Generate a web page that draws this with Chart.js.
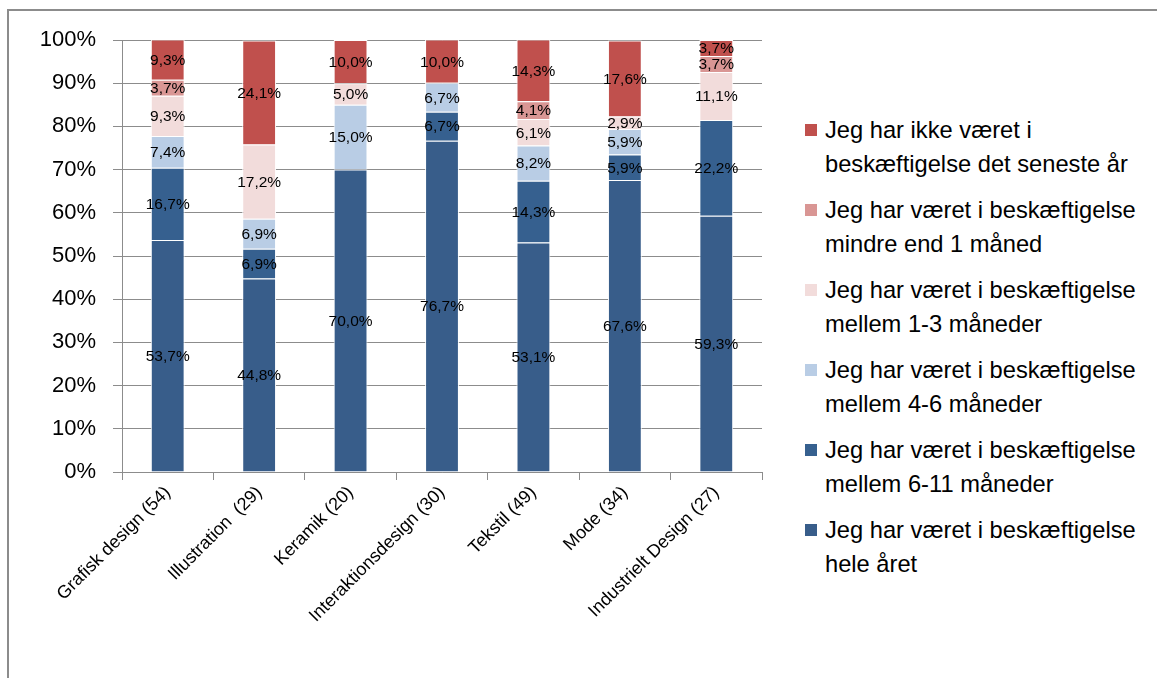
<!DOCTYPE html>
<html>
<head>
<meta charset="utf-8">
<script src="https://cdn.jsdelivr.net/npm/chart.js@4.4.0/dist/chart.umd.min.js"></script>
<style>
  body { margin: 0; background: #fff; overflow: hidden; font-family: "Liberation Sans", Arial, sans-serif; }
  #frame { position: absolute; left: 7px; top: 9px; width: 1300px; height: 800px; border: 2px solid #8c8c8c; }
  #wrap { position: absolute; left: 0; top: 0; width: 770px; height: 678px; }
  #legend { position: absolute; left: 805px; top: 113px; }
  .item { position: relative; padding-left: 20px; font-size: 23.7px; line-height: 34px; color: #000; margin-bottom: 12px; white-space: nowrap; }
  .item span.box { position: absolute; left: 0; top: 11px; width: 12px; height: 12px; }
</style>
</head>
<body>
<div id="frame"></div>
<div id="wrap"><canvas id="chart"></canvas></div>
<div id="legend"></div>
<script>
// categories (x axis)
const categories = ["Grafisk design (54)", "Illustration  (29)", "Keramik (20)", "Interaktionsdesign (30)", "Tekstil (49)", "Mode (34)", "Industrielt Design (27)"];

// series, bottom to top, in percent
const heleAaret   = [53.7, 44.8, 70.0, 76.7, 53.1, 67.6, 59.3];
const mdr6til11   = [16.7, 6.9, 0, 6.7, 14.3, 5.9, 22.2];
const mdr4til6    = [7.4, 6.9, 15.0, 6.7, 8.2, 5.9, 0];
const mdr1til3    = [9.3, 17.2, 5.0, 0, 6.1, 2.9, 11.1];
const underEnMdr  = [3.7, 0, 0, 0, 4.1, 0, 3.7];
const ikkeBeskaef = [9.3, 24.1, 10.0, 10.0, 14.3, 17.6, 3.7];

const yTicks = [0, 10, 20, 30, 40, 50, 60, 70, 80, 90, 100];

const seriesNames = [
  ["Jeg har været i beskæftigelse", "hele året"],
  ["Jeg har været i beskæftigelse", "mellem 6-11 måneder"],
  ["Jeg har været i beskæftigelse", "mellem 4-6 måneder"],
  ["Jeg har været i beskæftigelse", "mellem 1-3 måneder"],
  ["Jeg har været i beskæftigelse", "mindre end 1 måned"],
  ["Jeg har ikke været i", "beskæftigelse det seneste år"]
];
const seriesData = [heleAaret, mdr6til11, mdr4til6, mdr1til3, underEnMdr, ikkeBeskaef];
const colors = ["#385d8a", "#36608f", "#b9cde5", "#f2dcdb", "#d99694", "#c0504d"];

const gridGray = "#8c8c8c";

const datasets = seriesData.map((d, i) => ({
  label: seriesNames[i].join(" "),
  data: d,
  backgroundColor: colors[i],
  borderColor: "#ffffff",
  borderWidth: 1,
  categoryPercentage: 1,
  barPercentage: 0.37
}));

// value labels in the middle of each segment
const segmentLabels = {
  id: "segmentLabels",
  afterDatasetsDraw(chart) {
    const ctx = chart.ctx;
    ctx.save();
    ctx.font = "15.5px 'Liberation Sans', Arial, sans-serif";
    ctx.fillStyle = "#000";
    ctx.textAlign = "center";
    ctx.textBaseline = "middle";
    chart.data.datasets.forEach((ds, di) => {
      const meta = chart.getDatasetMeta(di);
      meta.data.forEach((bar, i) => {
        const v = ds.data[i];
        if (!v) return;
        const p = bar.getProps(["x", "y", "base"], true);
        const top = Math.max(p.y, chart.chartArea.top);
        ctx.fillText(v.toFixed(1).replace(".", ",") + "%", p.x, (top + p.base) / 2 + 1);
      });
    });
    ctx.restore();
  }
};

const chart = new Chart(document.getElementById("chart"), {
  type: "bar",
  data: { labels: categories, datasets: datasets },
  plugins: [segmentLabels],
  options: {
    responsive: true,
    maintainAspectRatio: false,
    animation: false,
    layout: { padding: { top: 40, right: 8, left: 0, bottom: 0 } },
    plugins: { legend: { display: false }, tooltip: { enabled: false } },
    scales: {
      x: {
        stacked: true,
        afterFit(s) { s.height = 206; },
        grid: { display: true, drawOnChartArea: false, drawTicks: true, tickLength: 8, color: gridGray, offset: true },
        border: { display: true, color: gridGray, width: 1 },
        ticks: {
          minRotation: 45, maxRotation: 45, autoSkip: false, padding: 2,
          color: "#000",
          font: { family: "'Liberation Sans', Arial, sans-serif", size: 18 }
        }
      },
      y: {
        stacked: true,
        min: 0, max: 100,
        afterFit(s) { s.width = 122; },
        afterBuildTicks(s) { s.ticks = yTicks.map(v => ({ value: v })); },
        grid: { color: gridGray, tickLength: 9, drawTicks: true },
        border: { display: true, color: gridGray, width: 1 },
        ticks: {
          padding: 17,
          color: "#000",
          font: { family: "'Liberation Sans', Arial, sans-serif", size: 22 },
          callback: v => v + "%"
        }
      }
    }
  }
});

// legend: top series first
const legend = document.getElementById("legend");
for (let i = seriesNames.length - 1; i >= 0; i--) {
  const div = document.createElement("div");
  div.className = "item";
  div.innerHTML = '<span class="box" style="background:' + colors[i] + '"></span>' + seriesNames[i][0] + "<br>" + seriesNames[i][1];
  legend.appendChild(div);
}
</script>
</body>
</html>
